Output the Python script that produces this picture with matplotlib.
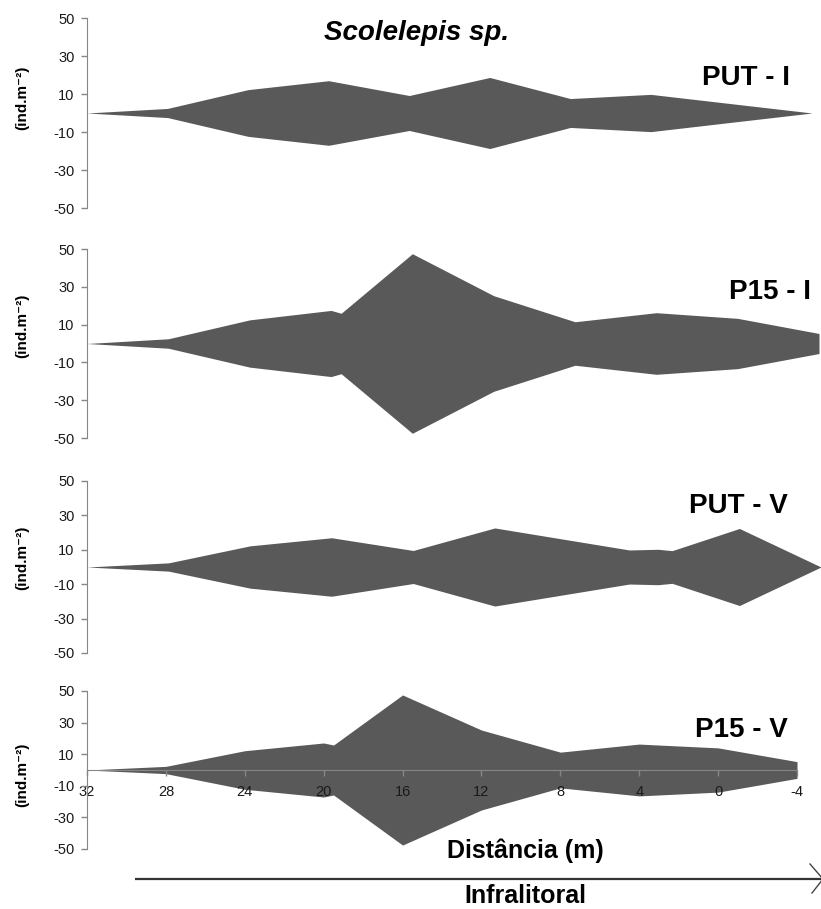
import numpy as np
import matplotlib
matplotlib.use("Agg")
import matplotlib.pyplot as plt

plt.rcParams['font.family'] = ['Liberation Sans', 'DejaVu Sans']
plt.rcParams['axes.unicode_minus'] = False

# distance along transect (m) and kite half-widths (ind.m-2)
put_i_dist = [32, 28, 24, 20, 16, 12, 8, 4, -4]
put_i_dens = [0, 2.4, 12.3, 17.0, 9.2, 18.7, 7.6, 9.8, 0]

p15_i_dist = [32, 28, 24, 20, 19.5, 16, 12, 8, 4, 0, -4]
p15_i_dens = [0, 2.5, 12.5, 17.5, 16.0, 47.5, 25.3, 11.5, 16.3, 13.3, 5.3]

put_v_dist = [32, 28, 24, 20, 16, 12, 5.4, 4, 3.3, 0, -4]
put_v_dens = [0, 2.4, 12.3, 17.0, 9.6, 22.7, 9.9, 10.3, 9.5, 22.4, 0]

p15_v_dist = [32, 28, 24, 20, 19.5, 16, 12, 8, 4, 0, -4]
p15_v_dens = [0, 2.3, 12.2, 17.1, 15.8, 47.5, 25.3, 11.3, 16.4, 14.0, 5.3]

panel_names = ["PUT - I", "P15 - I", "PUT - V", "P15 - V"]
y_ticks = [-50, -30, -10, 10, 30, 50]
x_ticks = [32, 28, 24, 20, 16, 12, 8, 4, 0, -4]

W, H = 821, 909
fig = plt.figure(figsize=(W / 100, H / 100), dpi=100)

# panel boxes in pixels: left, right, top(50), bottom(-50)
boxes = [(87, 812, 18, 208), (87, 819, 249, 438), (87, 821, 481, 653), (87, 797, 691, 849)]
series = [(put_i_dist, put_i_dens), (p15_i_dist, p15_i_dens),
          (put_v_dist, put_v_dens), (p15_v_dist, p15_v_dens)]
name_pos = [(746, 85), (770, 299), (738, 513), (741, 737)]
ylab_pos = [98, 326, 558, 775]

fill_col = '#595959'
axis_col = '#868686'
txt_col = '#1a1a1a'

for i, ((l, r, t, b), (d, v)) in enumerate(zip(boxes, series)):
    ax = fig.add_axes([l / W, 1 - b / H, (r - l) / W, (b - t) / H])
    d = np.array(d)
    v = np.array(v)
    ax.fill_between(d, v, -v, color=fill_col, linewidth=0, zorder=1)
    ax.set_xlim(32, -4)
    ax.set_ylim(-50, 50)
    ax.set_yticks(y_ticks)
    ax.tick_params(axis='y', direction='out', length=4, width=1, color=axis_col,
                   labelsize=10.5, labelcolor=txt_col, pad=5)
    ax.spines['top'].set_visible(False)
    ax.spines['right'].set_visible(False)
    ax.spines['left'].set_color(axis_col)
    ax.patch.set_visible(False)
    if i == 3:
        ax.spines['bottom'].set_position(('data', 0))
        ax.spines['bottom'].set_color(axis_col)
        ax.spines['bottom'].set_zorder(3)
        ax.set_xticks(x_ticks)
        ax.tick_params(axis='x', direction='out', length=4, width=1, color=axis_col,
                       labelsize=10.5, labelcolor=txt_col, pad=7)
    else:
        ax.spines['bottom'].set_visible(False)
        ax.set_xticks([])

ov = fig.add_axes([0, 0, 1, 1], zorder=10)
ov.set_xlim(0, W)
ov.set_ylim(H, 0)
ov.axis('off')
ov.patch.set_visible(False)

for name, (x, y) in zip(panel_names, name_pos):
    ov.text(x, y, name, ha='center', va='baseline', fontsize=20,
            fontweight='bold', color='black')
for y in ylab_pos:
    ov.text(22, y, "(ind.m⁻²)", ha='center', va='center', rotation=90,
            fontsize=11, fontweight='bold', color='black')

ov.text(417, 40, "Scolelepis sp.", ha='center', va='baseline', fontsize=20,
        fontweight='bold', fontstyle='italic', color='black')
ov.text(525, 858, "Distância (m)", ha='center', va='baseline', fontsize=18,
        fontweight='bold', color='black')
ov.text(525, 903, "Infralitoral", ha='center', va='baseline', fontsize=18,
        fontweight='bold', color='black')

# arrow towards the infralittoral
ov.plot([135, 821], [879, 879], color='#333333', lw=1.6, solid_capstyle='butt')
ov.plot([810, 823, 812], [864, 879, 893], color='#444444', lw=1.0)

fig.savefig("out.png", dpi=100)
